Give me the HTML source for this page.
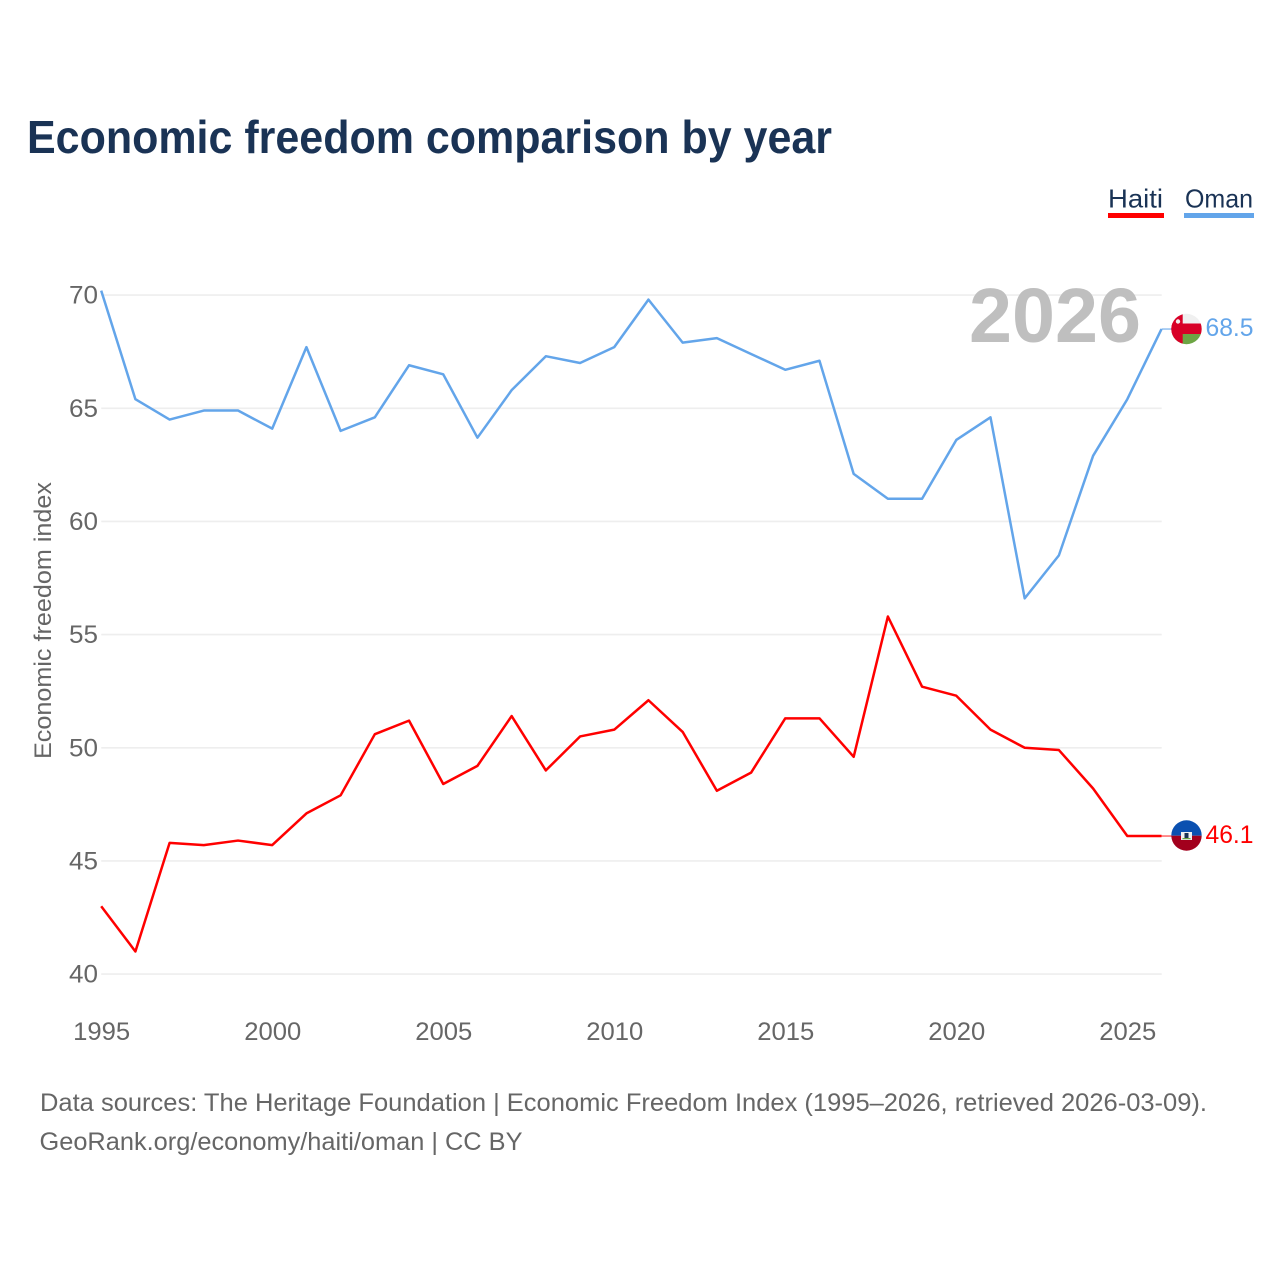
<!DOCTYPE html>
<html lang="en">
<head>
<meta charset="utf-8">
<title>Economic freedom comparison by year</title>
<style>
html,body{margin:0;padding:0;background:#fff}
svg{display:block;font-family:"Liberation Sans",sans-serif}
</style>
</head>
<body>
<svg id="chart" xmlns="http://www.w3.org/2000/svg" width="1280" height="1280" viewBox="0 0 1280 1280">
  <rect width="1280" height="1280" fill="#ffffff"/>
  <text x="27" y="153" font-size="46" font-weight="700" fill="#1a3355" textLength="805" lengthAdjust="spacingAndGlyphs">Economic freedom comparison by year</text>

  <g>
    <text x="1108" y="207.5" font-size="26" fill="#1a3355" textLength="55" lengthAdjust="spacingAndGlyphs">Haiti</text>
    <rect x="1108" y="213" width="56" height="5" fill="#ff0000"/>
  </g>
  <g>
    <text x="1185" y="207.5" font-size="26" fill="#1a3355" textLength="68" lengthAdjust="spacingAndGlyphs">Oman</text>
    <rect x="1184" y="213" width="70" height="5" fill="#63a5ea"/>
  </g>

  <g id="grid"></g>
  <g id="y-ticks"></g>
  <g id="x-ticks"></g>
  <text transform="translate(51,759) rotate(-90)" font-size="24.5" fill="#666666" textLength="277" lengthAdjust="spacingAndGlyphs">Economic freedom index</text>

  <text x="969" y="342" font-size="77" font-weight="700" fill="#bfbfbf" textLength="172" lengthAdjust="spacingAndGlyphs">2026</text>

  <g id="series"></g>
  <g id="ends"></g>

  <defs>
    <clipPath id="clip-oman"><circle cx="1186.5" cy="329" r="15.2"/></clipPath>
    <clipPath id="clip-haiti"><circle cx="1186.5" cy="835.5" r="15.2"/></clipPath>
  </defs>

  <g id="flag-oman" clip-path="url(#clip-oman)"></g>
  <g id="flag-haiti" clip-path="url(#clip-haiti)"></g>

  <text x="40" y="1111" font-size="25" fill="#666666" textLength="1167" lengthAdjust="spacingAndGlyphs">Data sources: The Heritage Foundation | Economic Freedom Index (1995–2026, retrieved 2026-03-09).</text>
  <text x="39.5" y="1150" font-size="25" fill="#666666" textLength="483" lengthAdjust="spacingAndGlyphs">GeoRank.org/economy/haiti/oman | CC BY</text>
</svg>
<script>
const years = [1995,1996,1997,1998,1999,2000,2001,2002,2003,2004,2005,2006,2007,2008,2009,2010,2011,2012,2013,2014,2015,2016,2017,2018,2019,2020,2021,2022,2023,2024,2025,2026];
const omanValues = [70.2,65.4,64.5,64.9,64.9,64.1,67.7,64.0,64.6,66.9,66.5,63.7,65.8,67.3,67.0,67.7,69.8,67.9,68.1,67.4,66.7,67.1,62.1,61.0,61.0,63.6,64.6,56.6,58.5,62.9,65.4,68.5];
const haitiValues = [43.0,41.0,45.8,45.7,45.9,45.7,47.1,47.9,50.6,51.2,48.4,49.2,51.4,49.0,50.5,50.8,52.1,50.7,48.1,48.9,51.3,51.3,49.6,55.8,52.7,52.3,50.8,50.0,49.9,48.2,46.1,46.1];
const yTickValues = [40,45,50,55,60,65,70];
const xTickValues = [1995,2000,2005,2010,2015,2020,2025];

const NS = 'http://www.w3.org/2000/svg';
const xScale = function (year) { return 101.2 + (year - 1995) * (1127.3 - 101.2) / 30; };
const yScale = function (value) { return 974.1 - (value - 40) * (974.1 - 295.1) / 30; };

function make(tag, attrs, parent) {
  const el = document.createElementNS(NS, tag);
  Object.keys(attrs).forEach(function (k) { el.setAttribute(k, attrs[k]); });
  parent.appendChild(el);
  return el;
}

const gridGroup = document.getElementById('grid');
const yTickGroup = document.getElementById('y-ticks');
yTickValues.forEach(function (v) {
  const line = make('line', {x1: 101.2, x2: 1161.7, y1: yScale(v), y2: yScale(v), stroke: '#eeeeee', 'stroke-width': 1.6}, gridGroup);
  
  
  const label = make('text', {x: 98, y: yScale(v) + 8.6, 'text-anchor': 'end', 'font-size': 25, fill: '#666666', textLength: 29, lengthAdjust: 'spacingAndGlyphs'}, yTickGroup);
  label.textContent = String(v);
  
  
});

const xTickGroup = document.getElementById('x-ticks');
xTickValues.forEach(function (yr) {
  const label = make('text', {x: xScale(yr) + 0.5, y: 1040, 'text-anchor': 'middle', 'font-size': 25, fill: '#666666', textLength: 57, lengthAdjust: 'spacingAndGlyphs'}, xTickGroup);
  label.textContent = String(yr);
  
  
});

function pathFor(values) {
  return values.map(function (v, i) {
    return (i ? 'L' : 'M') + xScale(years[i]).toFixed(2) + ' ' + yScale(v).toFixed(2);
  }).join(' ');
}

const seriesGroup = document.getElementById('series');
const endGroup = document.getElementById('ends');

const haitiLine = make('path', {d: pathFor(haitiValues), fill: 'none', stroke: '#ff0000', 'stroke-width': 2.5, 'stroke-linejoin': 'round'}, seriesGroup);


const omanLine = make('path', {d: pathFor(omanValues), fill: 'none', stroke: '#63a5ea', 'stroke-width': 2.5, 'stroke-linejoin': 'round'}, seriesGroup);



const lastX = xScale(years[years.length - 1]);
const omanLast = omanValues[omanValues.length - 1];
const haitiLast = haitiValues[haitiValues.length - 1];

const omanLeader = make('line', {x1: lastX, x2: 1171.5, y1: yScale(omanLast), y2: yScale(omanLast), stroke: '#63a5ea', 'stroke-width': 1.5, opacity: 0.7}, endGroup);


const haitiLeader = make('line', {x1: lastX, x2: 1171.5, y1: yScale(haitiLast), y2: yScale(haitiLast), stroke: '#ff0000', 'stroke-width': 1.5, opacity: 0.6}, endGroup);



const omanEnd = make('text', {x: 1205.5, y: yScale(omanLast) + 7, 'font-size': 25, fill: '#63a5ea', textLength: 48, lengthAdjust: 'spacingAndGlyphs'}, endGroup);
omanEnd.textContent = omanLast.toFixed(1);


const haitiEnd = make('text', {x: 1205.5, y: yScale(haitiLast) + 7, 'font-size': 25, fill: '#ff0000', textLength: 48, lengthAdjust: 'spacingAndGlyphs'}, endGroup);
haitiEnd.textContent = haitiLast.toFixed(1);



const fo = document.getElementById('flag-oman');
make('rect', {x: 1171, y: 313, width: 31, height: 10.5, fill: '#f0f0f0'}, fo);
make('rect', {x: 1171, y: 323.5, width: 31, height: 10.5, fill: '#d80027'}, fo);
make('rect', {x: 1171, y: 334, width: 31, height: 11, fill: '#6da544'}, fo);
make('rect', {x: 1171, y: 313, width: 11.7, height: 32, fill: '#d80027'}, fo);
make('circle', {cx: 1178, cy: 321.5, r: 2.2, fill: '#f0f0f0'}, fo);

const fh = document.getElementById('flag-haiti');
make('rect', {x: 1171, y: 820, width: 31, height: 15.7, fill: '#0b50b0'}, fh);
make('rect', {x: 1171, y: 835.7, width: 31, height: 16, fill: '#a2001d'}, fh);
make('rect', {x: 1181, y: 832, width: 11, height: 8, fill: '#f0f0f0'}, fh);
make('rect', {x: 1184.5, y: 833, width: 4, height: 5, fill: '#1a3355'}, fh);
make('rect', {x: 1182.5, y: 838, width: 8, height: 1.2, fill: '#6da544'}, fh);
</script>
</body>
</html>
